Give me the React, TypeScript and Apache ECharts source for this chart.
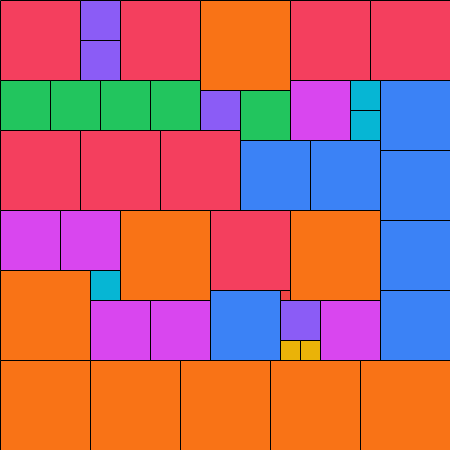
import React, { useEffect, useRef } from "react";
import * as echarts from "echarts";

// Square packing: left edge, top edge and side length of each square
const squareX = [
  0, 80, 80, 120, 200, 290, 370,
  0, 50, 100, 150, 200, 240, 290, 350, 350, 380,
  0, 80, 160, 240, 310, 380,
  0, 60, 120, 210, 290, 380,
  0, 90, 90, 150, 210, 280, 280, 280, 300, 320, 380,
  0, 90, 180, 270, 360,
];
const squareY = [
  0, 0, 40, 0, 0, 0, 0,
  80, 80, 80, 80, 90, 90, 80, 80, 110, 80,
  130, 130, 130, 140, 140, 150,
  210, 210, 210, 210, 210, 220,
  270, 270, 300, 300, 290, 290, 300, 340, 340, 300, 290,
  360, 360, 360, 360, 360,
];
const squareSize = [
  80, 40, 40, 80, 90, 80, 80,
  50, 50, 50, 50, 40, 50, 60, 30, 30, 70,
  80, 80, 80, 70, 70, 70,
  60, 60, 90, 80, 90, 70,
  90, 30, 60, 60, 70, 10, 40, 20, 20, 60, 70,
  90, 90, 90, 90, 90,
];

const sizeKeys = [10, 20, 30, 40, 50, 60, 70, 80, 90];
const sizeColors = [
  "#ef4444", "#eab308", "#06b6d4", "#8b5cf6", "#22c55e",
  "#d946ef", "#3b82f6", "#f43f5e", "#f97316",
];

export default function App() {
  const ref = useRef<HTMLDivElement>(null);
  useEffect(() => {
    if (!ref.current) return;
    const chart = echarts.init(ref.current, undefined, { renderer: "svg" });
    const data = squareX.map((x, i) => [x, squareY[i], squareSize[i]]);
    chart.setOption({
      animation: false,
      grid: { left: 0, right: 0, top: 0, bottom: 0 },
      xAxis: { type: "value", min: 0, max: 450, show: false },
      yAxis: { type: "value", min: 0, max: 450, inverse: true, show: false },
      series: [
        {
          type: "custom",
          data,
          encode: { x: 0, y: 1 },
          renderItem: (params: any, api: any) => {
            const x = api.value(0);
            const y = api.value(1);
            const s = api.value(2);
            const p0 = api.coord([x, y]);
            const p1 = api.coord([x + s, y + s]);
            const color = sizeColors[sizeKeys.indexOf(s)] || "#999";
            return {
              type: "rect",
              shape: {
                x: Math.round(p0[0]) + 0.5,
                y: Math.round(p0[1]) + 0.5,
                width: Math.round(p1[0] - p0[0]),
                height: Math.round(p1[1] - p0[1]),
              },
              style: { fill: color, stroke: "#000", lineWidth: 1 },
            };
          },
        },
      ],
    });
    return () => chart.dispose();
  }, []);
  return (
    <div
      ref={ref}
      style={{ position: "fixed", left: 0, top: 0, width: 450, height: 450 }}
    />
  );
}
